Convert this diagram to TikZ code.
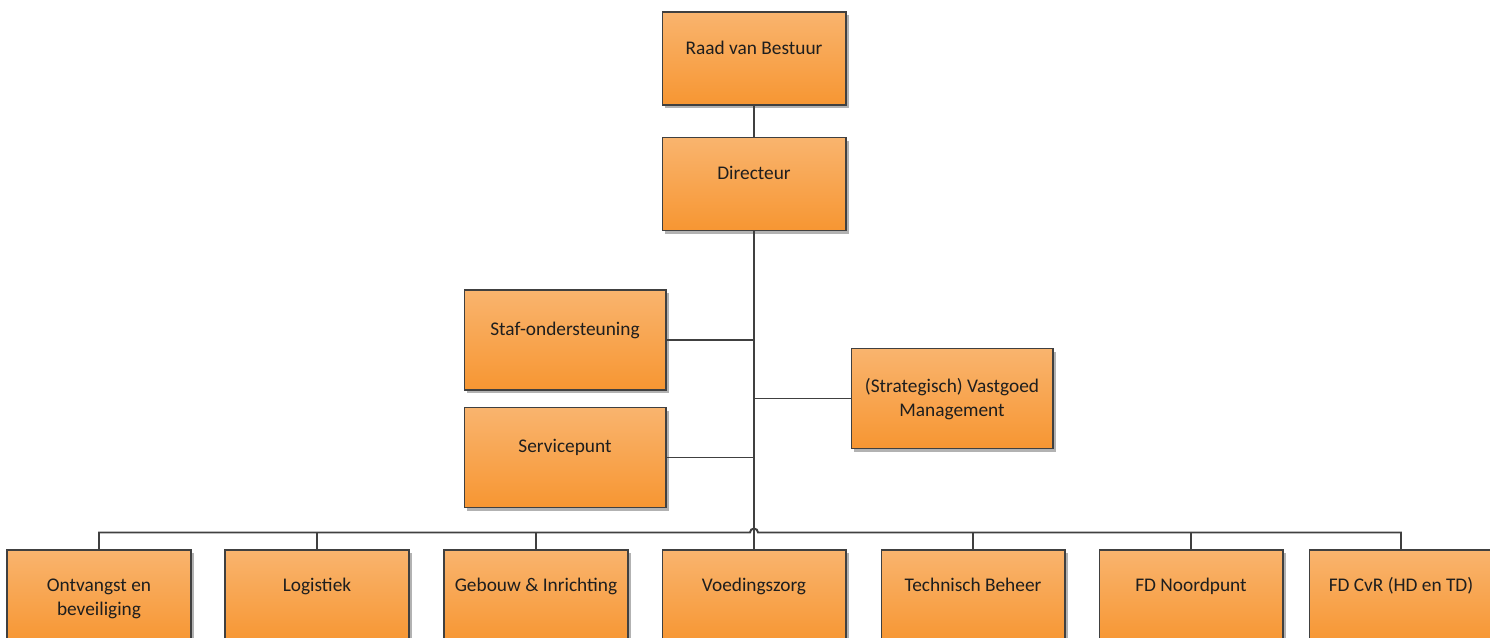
\documentclass[tikz,border=0pt]{standalone}
\usepackage{fontspec}
\setmainfont{Carlito}
\usetikzlibrary{calc,shadows}
\definecolor{boxtop}{RGB}{249,180,110}
\definecolor{boxbot}{RGB}{247,150,50}
\definecolor{edge}{RGB}{64,64,64}
\definecolor{ink}{RGB}{30,30,30}
\tikzset{
  orgbox/.style={draw=edge, line width=0.6pt, top color=boxtop, bottom color=boxbot,
    drop shadow={shadow xshift=0.06cm, shadow yshift=-0.06cm, fill=black, opacity=0.3},
    inner sep=0pt},
  narrowbox/.style={orgbox, minimum width=3.68cm, minimum height=1.86cm},
  broadbox/.style={orgbox, minimum width=4.04cm, minimum height=2.0cm},
  orgtext/.style={anchor=north, inner sep=0pt, align=center, text=ink,
    font=\fontsize{11}{13.5}\selectfont, execute at begin node=\strut},
  conn/.style={draw=edge, line width=1.1pt}
}
\begin{document}
\begin{tikzpicture}[x=0.02cm, y=-0.02cm]
  \useasboundingbox (0,0) rectangle (1490,637);
  \clip (0,0) rectangle (1490,637);

  % management chain
  \node[narrowbox] (raad) at (754,58.5) {};
  \node[narrowbox] (dir)  at (754,184) {};
  % staff units
  \node[broadbox] (staf)  at (565,340) {};
  \node[broadbox] (serv)  at (565,457.5) {};
  \node[broadbox] (strat) at (952,398.5) {};
  % departments
  \node[narrowbox] (ontv)  at (99,596.5) {};
  \node[narrowbox] (logi)  at (317,596.5) {};
  \node[narrowbox] (geb)   at (536,596.5) {};
  \node[narrowbox] (voed)  at (754,596.5) {};
  \node[narrowbox] (tech)  at (973,596.5) {};
  \node[narrowbox] (noord) at (1191,596.5) {};
  \node[narrowbox] (cvr)   at (1401,596.5) {};

  % labels, top aligned inside the boxes
  \node[orgtext] (raad-t)  at ($(raad.north)+(0,26)$) {Raad van Bestuur};
  \node[orgtext] (dir-t)   at ($(dir.north)+(0,26)$) {Directeur};
  \node[orgtext] (staf-t)  at ($(staf.north)+(0,29)$) {Staf-ondersteuning};
  \node[orgtext] (serv-t)  at ($(serv.north)+(0,29)$) {Servicepunt};
  \node[orgtext] (strat-t) at ($(strat.north)+(0,30)$) {(Strategisch) Vastgoed\\Management};
  \node[orgtext] (ontv-t)  at ($(ontv.north)+(0,29)$) {Ontvangst en\\beveiliging};
  \node[orgtext] (logi-t)  at ($(logi.north)+(0,25)$) {Logistiek};
  \node[orgtext] (geb-t)   at ($(geb.north)+(0,25)$) {Gebouw \& Inrichting};
  \node[orgtext] (voed-t)  at ($(voed.north)+(0,25)$) {Voedingszorg};
  \node[orgtext] (tech-t)  at ($(tech.north)+(0,25)$) {Technisch Beheer};
  \node[orgtext] (noord-t) at ($(noord.north)+(0,25)$) {FD Noordpunt};
  \node[orgtext] (cvr-t)   at ($(cvr.north)+(0,25)$) {FD CvR (HD en TD)};

  % trunk
  \draw[conn] (raad.south) -- (dir.north);
  \draw[conn] (dir.south) -- (voed.north);
  % side branches
  \draw[conn] (staf.east) -- (staf.east -| dir.south);
  \draw[conn] (serv.east) -- (serv.east -| dir.south);
  \draw[conn] (strat.west) -- (strat.west -| dir.south);
  % department bus with a line jump over the trunk
  \path (voed.north) ++(0,-17) coordinate (bus);
  \draw[conn] (ontv.north) |- ($(bus)+(-4,0)$)
     arc[start angle=180, end angle=0, radius=0.08cm] -| (cvr.north);
  \foreach \d in {logi,geb,tech,noord}
    \draw[conn] (\d.north) -- (\d.north |- bus);
\end{tikzpicture}
\end{document}
